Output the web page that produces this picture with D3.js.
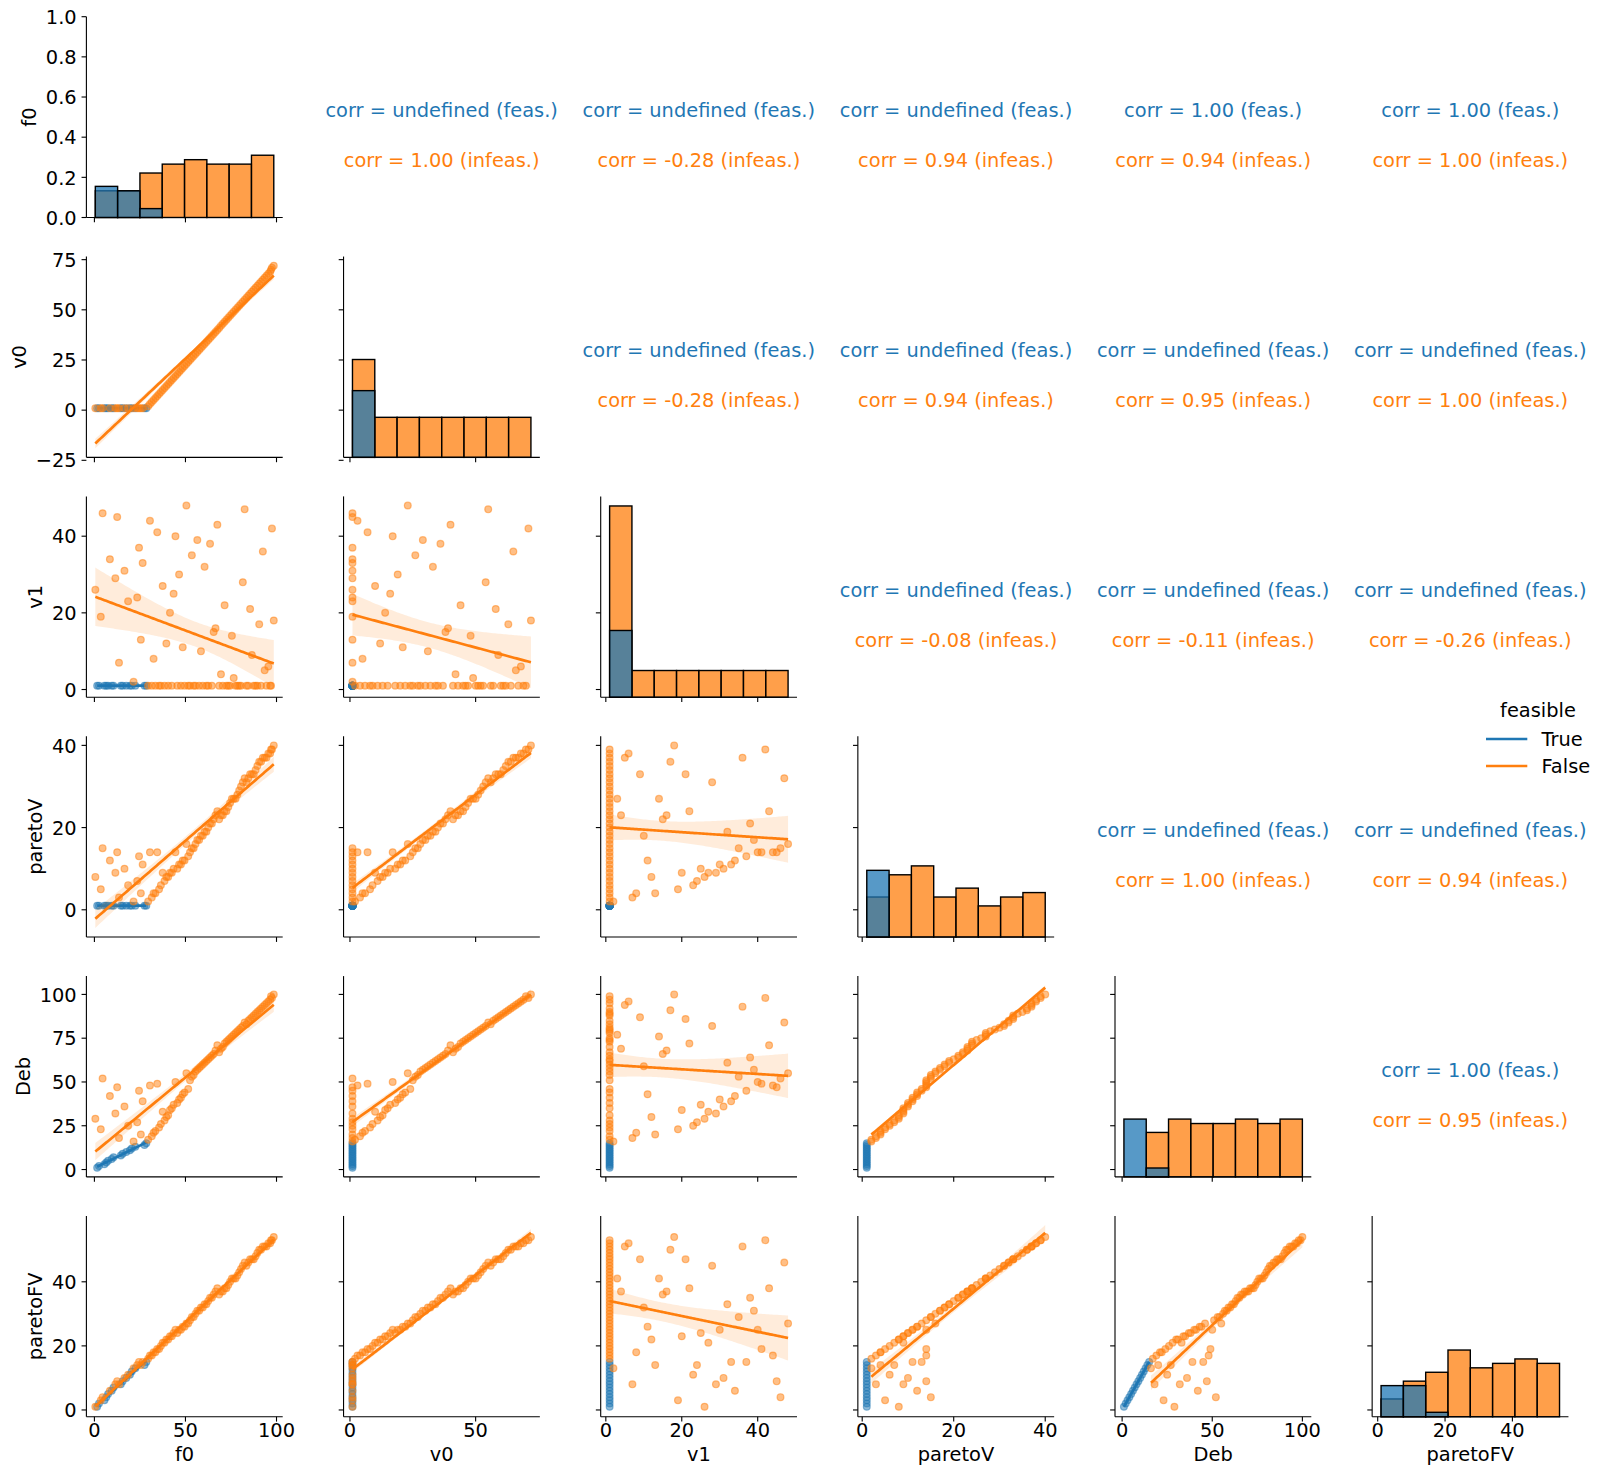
<!DOCTYPE html>
<html><head><meta charset="utf-8">
<script src="https://cdn.jsdelivr.net/npm/d3@7"></script>
<style>body{margin:0;background:#fff} text{font-family:"DejaVu Sans",sans-serif}</style>
</head><body>
<svg id="chart" width="1608" height="1478"></svg>
<script>
// ---------------- data (one entry per individual) ----------------
const varNames = ["f0","v0","v1","paretoV","Deb","paretoFV"];
const f0 = [0.5,1.5,2.5,3.5,4.5,5.5,6.5,7.5,8.5,9.5,10.5,11.5,12.5,13.5,14.5,15.5,16.5,17.5,18.5,19.5,20.5,21.5,22.5,23.5,24.5,25.5,26.5,27.5,28.5,
 29.5,30.5,31.5,32.5,33.5,34.5,35.5,36.5,37.5,38.5,39.5,40.5,41.5,42.5,43.5,44.5,45.5,46.5,47.5,48.5,49.5,50.5,51.5,52.5,53.5,54.5,55.5,56.5,57.5,58.5,59.5,60.5,61.5,62.5,63.5,64.5,65.5,66.5,67.5,68.5,69.5,70.5,71.5,72.5,73.5,74.5,75.5,76.5,77.5,78.5,79.5,80.5,81.5,82.5,83.5,84.5,85.5,86.5,87.5,88.5,89.5,90.5,91.5,92.5,93.5,94.5,95.5,96.5,97.0,97.5,98.5];
const v0 = [1,1,1,1,1,1,1,1,1,1,1,1,1,1,1,1,1,1,1,1,1,1,1,1,1,1,1,1,1,
 2,3,4,5,6,7,8,9,10,11,12,13,14,15,16,17,18,19,20,21,22,23,24,25,26,27,28,29,30,31,32,33,34,35,36,37,38,39,40,41,42,43,44,45,46,47,48,49,50,51,52,53,54,55,56,57,58,59,60,61,62,63,64,65,66,67,68,69,70,71,72];
const v1 = [26,1,1,19,46,1,1,1,34,1,1,29,45,7,1,1,31,1,23,1,1,2,1,24,37,13,33,1,1,
 1,44,1,8,1,41,1,1,27,1,12,1,20,1,25,40,1,30,1,11,1,48,1,1,35,1,1,39,1,10,1,32,1,1,38,1,15,16,43,1,4,1,22,1,1,1,14,3,1,1,1,1,28,47,1,1,21,9,1,1,1,17,1,36,5,1,6,1,1,42,18];
const paretoV = [8,1,1,5,15,1,1,1,12,1,1,9,14,3,1,1,10,1,6,1,1,2,1,7,13,4,11,1,1,
 2,14,3,4,4,14,5,6,9,7,8,8,9,9,10,14,10,11,11,12,12,16,13,14,15,15,16,17,17,18,18,19,19,20,21,21,22,23,24,22,23,23,24,24,25,26,27,27,27,28,29,30,31,32,31,32,33,33,33,34,35,36,36,37,37,37,38,38,39,39,40];
const Deb = [29,1,2,23,52,3,4,5,42,6,7,32,47,18,8,9,36,10,25,11,12,16,13,27,45,20,39,14,15,
 17,48,19,21,22,49,24,26,33,28,30,31,34,35,37,50,38,40,41,43,44,55,46,51,53,54,56,57,58,59,60,61,62,63,64,65,66,68,71,67,69,70,72,73,74,75,76,77,78,79,80,81,82,84,83,85,86,87,88,89,90,91,92,93,94,95,96,97,99,98,100];
const paretoFV = [1,1,2,3,4,3,4,5,6,6,7,8,9,8,8,9,10,10,11,11,12,13,13,14,15,14,15,14,15,
 16,17,17,18,18,19,19,20,21,21,22,22,23,23,24,25,24,25,25,26,26,27,27,28,29,29,30,31,31,32,32,33,33,34,35,35,36,37,38,36,37,37,38,38,39,40,41,41,41,42,43,44,45,46,45,46,47,47,47,48,49,50,50,51,51,51,52,52,53,53,54];
const feasible = [false,true,true,false,false,true,true,true,false,true,true,false,false,false,true,true,false,true,false,true,true,false,true,false,false,false,false,true,true,
 ...Array(71).fill(false)];

// tick values
const xTickVals = {f0:[0,50,100], v0:[0,50], v1:[0,20,40], paretoV:[0,20,40], Deb:[0,50,100], paretoFV:[0,20,40]};
const yTickVals = {f0:[0,0.2,0.4,0.6,0.8,1.0], v0:[-25,0,25,50,75], v1:[0,20,40], paretoV:[0,20,40], Deb:[0,25,50,75,100], paretoFV:[0,20,40]};

// upper-triangle annotations, row by row
const corrFeas   = ["undefined","undefined","undefined","1.00","1.00","undefined","undefined","undefined","undefined","undefined","undefined","undefined","undefined","undefined","1.00"];
const corrInfeas = ["1.00","-0.28","0.94","0.94","1.00","-0.28","0.94","0.95","1.00","-0.08","-0.11","-0.26","1.00","0.94","0.95"];

const hueLevels = [true,false];
const hueLabels = ["True","False"];
const hueColors = ["#1f77b4","#ff7f0e"];

// ---------------- layout ----------------
const colL0 = 86.4, colStep = 257.15, PW = 196.3;
const rowT0 = 16.7, rowStep = 239.85, PH = 200.8;
const FS = 19.4;
const TICK = 4.86, PAD = 4.86, LPAD = 5.56, LW = 1.11, REGW = 2.7;

const svg = d3.select("#chart");
const data = f0.map((_, i) => ({f0: f0[i], v0: v0[i], v1: v1[i], paretoV: paretoV[i], Deb: Deb[i], paretoFV: paretoFV[i], feasible: feasible[i]}));
const n = varNames.length;
const colLeft = j => colL0 + colStep * j;
const rowTop = i => rowT0 + rowStep * i;

function regress(xs, ys) {
  const m = xs.length;
  const xm = d3.mean(xs), ym = d3.mean(ys);
  let sxx = 0, sxy = 0;
  for (let k = 0; k < m; k++) { sxx += (xs[k]-xm)**2; sxy += (xs[k]-xm)*(ys[k]-ym); }
  if (sxx < 1e-9) return null;
  const b = sxy/sxx, a = ym - b*xm;
  let sse = 0;
  for (let k = 0; k < m; k++) sse += (ys[k] - a - b*xs[k])**2;
  const s2 = sse/(m-2);
  const t = (m-2) > 30 ? 1.99 : 2.16;
  const [x0, x1] = d3.extent(xs);
  return d3.range(100).map(k => {
    const x = x0 + (x1-x0)*k/99, y = a + b*x;
    const se = Math.sqrt(s2*(1/m + (x-xm)**2/sxx));
    return {x, y, lo: y - t*se, hi: y + t*se};
  });
}

// x scales (shared by column)
const xScale = {};
varNames.forEach((v, j) => {
  const e = d3.extent(data, d => d[v]);
  const mg = (e[1]-e[0])*0.05;
  xScale[v] = d3.scaleLinear().domain([e[0]-mg, e[1]+mg]).range([colLeft(j), colLeft(j)+PW]);
});

// regressions for lower panels
const regs = {};
for (let i = 1; i < n; i++) for (let j = 0; j < i; j++) {
  const xv = varNames[j], yv = varNames[i];
  regs[i+"_"+j] = hueLevels.map(h => {
    const sub = data.filter(d => d.feasible === h);
    return regress(sub.map(d => d[xv]), sub.map(d => d[yv]));
  });
}

// y scales (shared by row)
const yScale = {};
varNames.forEach((v, i) => {
  let dom;
  if (i === 0) dom = [0, 1];
  else {
    const vals = data.map(d => d[v]);
    for (let j = 0; j < i; j++) regs[i+"_"+j].forEach(r => { if (r) r.forEach(p => vals.push(p.lo, p.hi)); });
    const e = d3.extent(vals); const mg = (e[1]-e[0])*0.05;
    dom = [e[0]-mg, e[1]+mg];
  }
  yScale[v] = d3.scaleLinear().domain(dom).range([rowTop(i)+PH, rowTop(i)]);
});

// histogram bins (shared count axis over diagonal)
const hists = {};
let maxCount = 0;
varNames.forEach(v => {
  const e = d3.extent(data, d => d[v]);
  const thr = d3.range(1, 8).map(k => e[0] + k*(e[1]-e[0])/8);
  const binner = d3.bin().domain(e).thresholds(thr);
  hists[v] = hueLevels.map(h => binner(data.filter(d => d.feasible === h).map(d => d[v])));
  hists[v].forEach(bs => bs.forEach(b => { maxCount = Math.max(maxCount, b.length); }));
});
const countMax = maxCount*1.05;

const fmt = (v, dec) => (dec ? v.toFixed(1) : String(v)).replace("-", "\u2212");

// ---------------- drawing ----------------
const gPlots = svg.append("g");
for (let i = 0; i < n; i++) {
  for (let j = 0; j <= i; j++) {
    const xv = varNames[j], yv = varNames[i];
    const L = colLeft(j), T = rowTop(i), B = T + PH;
    const g = gPlots.append("g");
    const xs = xScale[xv], ys = yScale[yv];
    if (j === i) {
      const yc = d3.scaleLinear().domain([0, countMax]).range([B, T]);
      // later hue drawn first so the first level sits on top
      [1, 0].forEach(h => {
        g.append("g").selectAll("rect").data(hists[xv][h].filter(b => b.length > 0)).join("rect")
          .attr("x", b => xs(b.x0)).attr("width", b => xs(b.x1) - xs(b.x0))
          .attr("y", b => yc(b.length)).attr("height", b => B - yc(b.length))
          .attr("fill", hueColors[h]).attr("fill-opacity", 0.75)
          .attr("stroke", "#000").attr("stroke-width", 1.4);
      });
    } else {
      const r = regs[i+"_"+j];
      hueLevels.forEach((h, hi) => {
        const sub = data.filter(d => d.feasible === h);
        g.append("g").selectAll("circle").data(sub).join("circle")
          .attr("cx", d => xs(d[xv])).attr("cy", d => ys(d[yv])).attr("r", 3.4)
          .attr("fill", hueColors[hi]).attr("fill-opacity", 0.5)
          .attr("stroke", hueColors[hi]).attr("stroke-opacity", 0.5).attr("stroke-width", 1.2);
        const line = r[hi];
        if (line) {
          g.append("path").datum(line)
            .attr("d", d3.area().x(p => xs(p.x)).y0(p => ys(p.lo)).y1(p => ys(p.hi)))
            .attr("fill", hueColors[hi]).attr("fill-opacity", 0.15).attr("stroke", "none");
          g.append("path").datum(line)
            .attr("d", d3.line().x(p => xs(p.x)).y(p => ys(p.y)))
            .attr("fill", "none").attr("stroke", hueColors[hi]).attr("stroke-width", REGW);
        }
      });
    }
    // spines
    g.append("line").attr("x1", L).attr("x2", L).attr("y1", T).attr("y2", B).attr("stroke", "#000").attr("stroke-width", LW);
    g.append("line").attr("x1", L).attr("x2", L+PW).attr("y1", B).attr("y2", B).attr("stroke", "#000").attr("stroke-width", LW);
    // x ticks
    xTickVals[xv].forEach(t => {
      const x = xs(t);
      g.append("line").attr("x1", x).attr("x2", x).attr("y1", B).attr("y2", B+TICK).attr("stroke", "#000").attr("stroke-width", LW);
      if (i === n-1) g.append("text").attr("x", x).attr("y", B + 19.8)
        .attr("text-anchor", "middle").attr("font-size", FS).text(fmt(t, false));
    });
    // y ticks
    const yLabs = [];
    yTickVals[yv].forEach(t => {
      const y = ys(t);
      g.append("line").attr("x1", L-TICK).attr("x2", L).attr("y1", y).attr("y2", y).attr("stroke", "#000").attr("stroke-width", LW);
      if (j === 0) yLabs.push(g.append("text").attr("x", L - TICK - PAD).attr("y", y + 0.37*FS)
        .attr("text-anchor", "end").attr("font-size", FS).text(fmt(t, i === 0)));
    });
    if (j === 0) {
      const minX = d3.min(yLabs, t => t.node().getBBox().x);
      const bx = minX - LPAD - 0.208*FS, by = T + PH/2;
      g.append("text").attr("transform", `translate(${bx},${by}) rotate(-90)`)
        .attr("text-anchor", "middle").attr("font-size", FS).text(yv);
    }
    if (i === n-1) {
      g.append("text").attr("x", L + PW/2).attr("y", B + 44.5)
        .attr("text-anchor", "middle").attr("font-size", FS).text(xv);
    }
  }
}

// upper triangle annotations
let k = 0;
for (let i = 0; i < n; i++) for (let j = i+1; j < n; j++) {
  const cx = colLeft(j) + PW/2, T = rowTop(i);
  svg.append("text").attr("x", cx).attr("y", T + 94).attr("dominant-baseline", "central")
    .attr("text-anchor", "middle").attr("font-size", FS).attr("fill", hueColors[0])
    .text(`corr = ${corrFeas[k]} (feas.)`);
  svg.append("text").attr("x", cx).attr("y", T + 144).attr("dominant-baseline", "central")
    .attr("text-anchor", "middle").attr("font-size", FS).attr("fill", hueColors[1])
    .text(`corr = ${corrInfeas[k]} (infeas.)`);
  k++;
}

// legend
const lg = svg.append("g");
lg.append("text").attr("x", 1538).attr("y", 716.7).attr("text-anchor", "middle").attr("font-size", FS).text("feasible");
hueLabels.forEach((lab, h) => {
  const y = 739 + 27*h;
  lg.append("line").attr("x1", 1486).attr("x2", 1527.3).attr("y1", y).attr("y2", y)
    .attr("stroke", hueColors[h]).attr("stroke-width", REGW);
  lg.append("text").attr("x", 1541.5).attr("y", y + 6.8).attr("font-size", FS).text(lab);
});
</script>
</body></html>
